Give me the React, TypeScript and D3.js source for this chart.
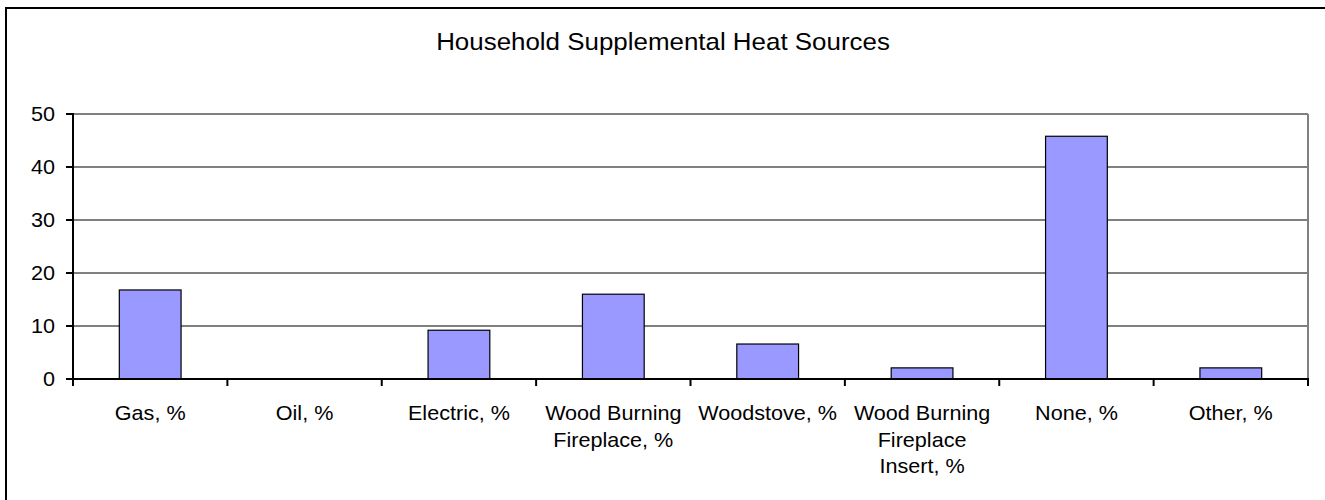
import React from "react";
import * as d3 from "d3";

const categories: string[][] = [
  ["Gas, %"],
  ["Oil, %"],
  ["Electric, %"],
  ["Wood Burning", "Fireplace, %"],
  ["Woodstove, %"],
  ["Wood Burning", "Fireplace", "Insert, %"],
  ["None, %"],
  ["Other, %"],
];
const values: number[] = [16.8, 0, 9.2, 16.0, 6.6, 2.1, 45.8, 2.1];
const yTicks: number[] = [0, 10, 20, 30, 40, 50];
const title = "Household Supplemental Heat Sources";

const W = 1325;
const H = 500;
const left = 73;
const right = 1308;
const top = 114;
const bottom = 379;
const SX = 1.08;

export default function App() {
  const keys = categories.map((_, i) => String(i));
  const x = d3.scaleBand<string>().domain(keys).range([left, right]).paddingInner(0).paddingOuter(0);
  const y = d3.scaleLinear().domain([0, 50]).range([bottom, top]);
  const bw = x.bandwidth() / 2.5;
  const font = "'Liberation Sans', Arial, sans-serif";
  const tickXs = keys.map((k) => x(k) as number).concat([right]);

  return (
    <svg
      width={W}
      height={H}
      style={{ position: "absolute", left: 0, top: 0, background: "#fff" }}
      fontFamily={font}
    >
      <rect x={0} y={0} width={W} height={H} fill="#fff" />
      <rect x={6} y={8} width={W + 20} height={H + 20} fill="none" stroke="#000" strokeWidth={2} />
      <text transform={`translate(663,50) scale(${SX},1)`} textAnchor="middle" fontSize={24} fill="#000">
        {title}
      </text>
      {yTicks
        .filter((t) => t > 0 && t < 50)
        .map((t) => (
          <line key={"g" + t} x1={left} x2={right} y1={y(t)} y2={y(t)} stroke="#000" strokeWidth={1} />
        ))}
      <line x1={left} x2={right} y1={y(50)} y2={y(50)} stroke="#808080" strokeWidth={2} />
      <line x1={right} x2={right} y1={y(50)} y2={bottom} stroke="#808080" strokeWidth={2} />
      {values.map((v, i) => {
        const cx = (x(String(i)) as number) + x.bandwidth() / 2;
        if (v <= 0) return null;
        return (
          <rect
            key={"b" + i}
            x={cx - bw / 2}
            y={y(v)}
            width={bw}
            height={bottom - y(v)}
            fill="#9999FF"
            stroke="#000"
            strokeWidth={1.2}
          />
        );
      })}
      <line x1={left} x2={left} y1={top - 1} y2={bottom + 1} stroke="#000" strokeWidth={2} />
      <line x1={left - 1} x2={right + 1} y1={bottom} y2={bottom} stroke="#000" strokeWidth={2} />
      {yTicks.map((t) => (
        <g key={"yt" + t}>
          <line x1={left - 7} x2={left} y1={y(t)} y2={y(t)} stroke="#000" strokeWidth={2} />
          <text
            transform={`translate(55,${y(t)}) scale(${SX},1)`}
            dy="0.36em"
            textAnchor="end"
            fontSize={20}
            fill="#000"
          >
            {t}
          </text>
        </g>
      ))}
      {tickXs.map((tx, i) => (
        <line key={"xt" + i} x1={tx} x2={tx} y1={bottom} y2={bottom + 7} stroke="#000" strokeWidth={2} />
      ))}
      {categories.map((lines, i) => {
        const cx = (x(String(i)) as number) + x.bandwidth() / 2;
        return (
          <text
            key={"xl" + i}
            transform={`translate(${cx},420) scale(${SX},1)`}
            textAnchor="middle"
            fontSize={20}
            fill="#000"
          >
            {lines.map((l, j) => (
              <tspan key={j} x={0} y={j * 26.7}>
                {l}
              </tspan>
            ))}
          </text>
        );
      })}
    </svg>
  );
}
